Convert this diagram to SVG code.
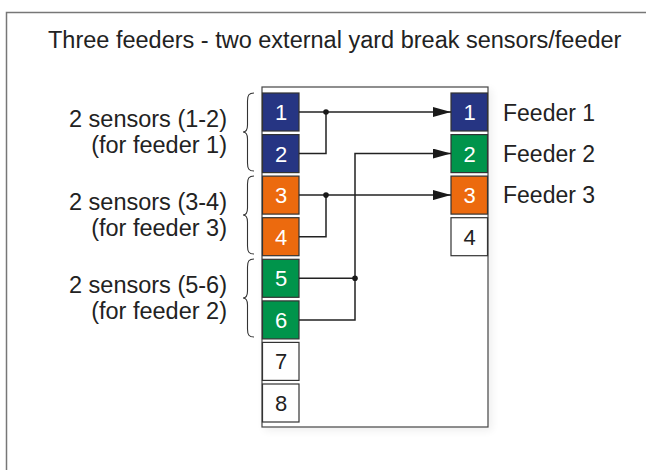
<svg xmlns="http://www.w3.org/2000/svg" width="646" height="470" viewBox="0 0 646 470">
<defs>
<filter id="sh" x="-20%" y="-20%" width="140%" height="140%">
<feGaussianBlur in="SourceAlpha" stdDeviation="4"/>
<feOffset dx="3" dy="3"/>
<feComponentTransfer><feFuncA type="linear" slope="0.07"/></feComponentTransfer>
<feMerge><feMergeNode/><feMergeNode in="SourceGraphic"/></feMerge>
</filter>
<marker id="arr" viewBox="0 0 18 10" refX="18" refY="5" markerWidth="18" markerHeight="10" markerUnits="userSpaceOnUse" orient="auto">
<path d="M0,0 L18,5 L0,10 Z" fill="#1a1a1a"/>
</marker>
</defs>
<style>
text{font-family:"Liberation Sans",Arial,sans-serif;fill:#222}
.t{font-size:23.5px}
.l{font-size:23.5px;text-anchor:end}
.fl{font-size:23px}
.n{font-size:22px;text-anchor:middle}
.w{fill:#fff}
.b{stroke:#333;stroke-width:1.2}
.blue{fill:#263583}
.green{fill:#00944b}
.orange{fill:#ec6a0e}
.white{fill:#fff}
.c{fill:none;stroke:#222;stroke-width:1.5}
.br{fill:none;stroke:#333;stroke-width:1.1}
</style>
<rect width="646" height="470" fill="#fff"/>
<path d="M6.5,470 V12.5 H646" fill="none" stroke="#777" stroke-width="1.5"/>
<text class="t" x="48" y="48">Three feeders - two external yard break sensors/feeder</text>
<g id="panel"><rect x="262" y="87" width="226" height="340" fill="#fff" stroke="#444" stroke-width="1.2" filter="url(#sh)"/></g>
<g id="s1"><rect class="b blue" x="262.5" y="93" width="36.5" height="38"/><text class="n w" x="281" y="120">1</text></g>
<g id="s2"><rect class="b blue" x="262.5" y="134.6" width="36.5" height="38"/><text class="n w" x="281" y="161.6">2</text></g>
<g id="s3"><rect class="b orange" x="262.5" y="176.1" width="36.5" height="38"/><text class="n w" x="281" y="203.1">3</text></g>
<g id="s4"><rect class="b orange" x="262.5" y="217.7" width="36.5" height="38"/><text class="n w" x="281" y="244.7">4</text></g>
<g id="s5"><rect class="b green" x="262.5" y="259.3" width="36.5" height="38"/><text class="n w" x="281" y="286.3">5</text></g>
<g id="s6"><rect class="b green" x="262.5" y="300.9" width="36.5" height="38"/><text class="n w" x="281" y="327.9">6</text></g>
<g id="s7"><rect class="b white" x="262.5" y="342.4" width="36.5" height="38"/><text class="n" x="281" y="369.4">7</text></g>
<g id="s8"><rect class="b white" x="262.5" y="384" width="36.5" height="38"/><text class="n" x="281" y="411">8</text></g>
<g id="f1"><rect class="b blue" x="451" y="93" width="36.5" height="38"/><text class="n w" x="469.5" y="120">1</text></g>
<g id="f2"><rect class="b green" x="451" y="134.6" width="36.5" height="38"/><text class="n w" x="469.5" y="161.6">2</text></g>
<g id="f3"><rect class="b orange" x="451" y="176.1" width="36.5" height="38"/><text class="n w" x="469.5" y="203.1">3</text></g>
<g id="f4"><rect class="b white" x="451" y="217.7" width="36.5" height="38"/><text class="n" x="469.5" y="244.7">4</text></g>
<g id="connectors">
<path class="c" d="M299,112 H451" marker-end="url(#arr)"/>
<path class="c" d="M299,153.6 H326 V112"/>
<circle cx="326" cy="112" r="2.8" fill="#1a1a1a"/>
<path class="c" d="M299,195.1 H451" marker-end="url(#arr)"/>
<path class="c" d="M299,236.7 H326 V195.1"/>
<circle cx="326" cy="195.1" r="2.8" fill="#1a1a1a"/>
<path class="c" d="M299,278.3 H355"/>
<path class="c" d="M299,319.9 H355 V153.6 H451" marker-end="url(#arr)"/>
<circle cx="355" cy="278.3" r="2.8" fill="#1a1a1a"/>
</g>
<g id="brace1"><path class="br" d="M254,93 C249,93 247.5,95 247.5,101 V125 C247.5,130 246,132 243,132 C246,132 247.5,134 247.5,139 V163 C247.5,169 249,171 254,171"/></g>
<g id="brace2"><path class="br" d="M254,176 C249,176 247.5,178 247.5,184 V208 C247.5,213 246,215 243,215 C246,215 247.5,217 247.5,222 V246 C247.5,252 249,254 254,254"/></g>
<g id="brace3"><path class="br" d="M254,259 C249,259 247.5,261 247.5,267 V291 C247.5,296 246,298 243,298 C246,298 247.5,300 247.5,305 V329 C247.5,335 249,337 254,337"/></g>
<g id="lab1"><text class="l" x="227" y="127">2 sensors (1-2)</text><text class="l" x="227" y="153">(for feeder 1)</text></g>
<g id="lab2"><text class="l" x="227" y="210">2 sensors (3-4)</text><text class="l" x="227" y="236">(for feeder 3)</text></g>
<g id="lab3"><text class="l" x="227" y="293">2 sensors (5-6)</text><text class="l" x="227" y="319">(for feeder 2)</text></g>
<g id="feeders"><text class="fl" x="503" y="121">Feeder 1</text><text class="fl" x="503" y="162">Feeder 2</text><text class="fl" x="503" y="203">Feeder 3</text></g>
</svg>
